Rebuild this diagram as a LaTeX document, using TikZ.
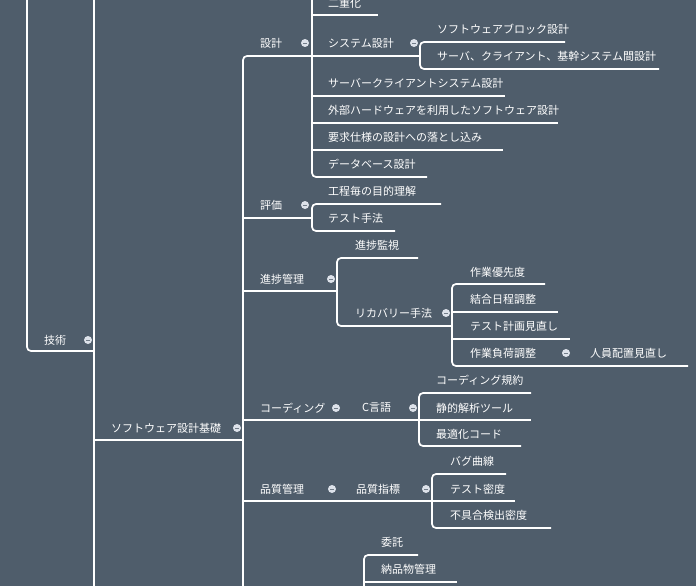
\documentclass[tikz,border=0pt]{standalone}
\usepackage{fontspec}
\newfontfamily\jp{Noto Sans CJK JP}
\definecolor{bg}{HTML}{4F5D6B}
\definecolor{knob}{HTML}{DDE2EA}
\begin{document}
\begin{tikzpicture}[x=1pt,y=-1pt,
  ln/.style={draw=white,line width=1.7pt,rounded corners=4pt},
  lbl/.style={anchor=west,inner sep=0pt,text=white,font=\jp\fontsize{11}{11}\selectfont},
  knobst/.style={circle,fill=knob,minimum size=8pt,inner sep=0pt,
    path picture={\draw[line width=0.8pt,draw=bg!80] ([xshift=-2pt]path picture bounding box.center) -- ([xshift=2pt]path picture bounding box.center);}}]
\fill[bg] (0,0) rectangle (696,586);
\useasboundingbox (0,0) rectangle (696,586);
\newcommand\lab[4]{\node[lbl] (#1) at (#2,#3) {#4};}
\newcommand\kn[3]{\node[knobst] (#1) at (#2,#3) {};}
% trunks
\draw[ln] (27,0) -- (27,351) -- (94,351);
\draw[ln] (94,0) -- (94,586);
\draw[ln] (94,440) -- (243,440);
\draw[ln] (312,56) -- (243,56) -- (243,586);
% 技術, ソフトウェア設計基礎
\lab{a1}{44}{340}{技術} \kn{k1}{88}{340}
\lab{a2}{111}{428}{ソフトウェア設計基礎} \kn{k2}{237}{428}
% 設計
\lab{b1}{260}{43}{設計} \kn{kb1}{305}{43}
\draw[ln] (312,0) -- (312,177) -- (427,177);
\draw[ln] (312,15) -- (378,15);
\draw[ln] (312,56) -- (420,56);
\draw[ln] (312,96) -- (505,96);
\draw[ln] (312,123) -- (558,123);
\draw[ln] (312,150) -- (503,150);
\lab{c1}{328}{3}{二重化}
\lab{c2}{328}{43}{システム設計} \kn{kc2}{414}{43}
\draw[ln] (565,42) -- (420,42) -- (420,69) -- (659,69);
\lab{d1}{437}{29}{ソフトウェアブロック設計}
\lab{d2}{437}{56}{サーバ、クライアント、基幹システム間設計}
\lab{c3}{328}{83}{サーバークライアントシステム設計}
\lab{c4}{328}{110}{外部ハードウェアを利用したソフトウェア設計}
\lab{c5}{328}{137}{要求仕様の設計への落とし込み}
\lab{c6}{328}{164}{データベース設計}
% 評価
\draw[ln] (243,218) -- (312,218);
\lab{b2}{260}{205}{評価} \kn{kb2}{305}{205}
\draw[ln] (441,204) -- (312,204) -- (312,231) -- (395,231);
\lab{e1}{328}{191}{工程毎の目的理解}
\lab{e2}{328}{218}{テスト手法}
% 進捗管理
\draw[ln] (243,291) -- (337,291);
\lab{b3}{260}{279}{進捗管理} \kn{kb3}{331}{279}
\draw[ln] (418,258) -- (337,258) -- (337,326) -- (452,326);
\lab{f1}{355}{245}{進捗監視}
\lab{f2}{355}{313}{リカバリー手法} \kn{kf2}{446}{313}
\draw[ln] (545,284) -- (452,284) -- (452,366) -- (688,366);
\draw[ln] (452,312) -- (558,312);
\draw[ln] (452,339) -- (570,339);
\lab{g1}{470}{272}{作業優先度}
\lab{g2}{470}{299}{結合日程調整}
\lab{g3}{470}{326}{テスト計画見直し}
\lab{g4}{470}{353}{作業負荷調整} \kn{kg4}{566}{353}
\lab{g5}{590}{353}{人員配置見直し}
% コーディング
\draw[ln] (243,420) -- (419,420);
\lab{b4}{260}{408}{コーディング} \kn{kb4}{336}{408}
\lab{h1}{362}{408}{C言語} \kn{kh1}{413}{408}
\draw[ln] (531,393) -- (419,393) -- (419,446) -- (521,446);
\draw[ln] (419,420) -- (531,420);
\lab{i1}{436}{380}{コーディング規約}
\lab{i2}{436}{408}{静的解析ツール}
\lab{i3}{436}{434}{最適化コード}
% 品質管理
\draw[ln] (243,501) -- (432,501);
\lab{b5}{260}{489}{品質管理} \kn{kb5}{332}{489}
\lab{j1}{356}{489}{品質指標} \kn{kj1}{426}{489}
\draw[ln] (506,474) -- (432,474) -- (432,528) -- (551,528);
\draw[ln] (432,501) -- (515,501);
\lab{l1}{450}{461}{バグ曲線}
\lab{l2}{450}{489}{テスト密度}
\lab{l3}{450}{515}{不具合検出密度}
% bottom
\draw[ln] (418,555) -- (364,555) -- (364,586);
\draw[ln] (364,582) -- (457,582);
\lab{m1}{381}{542}{委託}
\lab{m2}{381}{569}{納品物管理}
\end{tikzpicture}
\end{document}
